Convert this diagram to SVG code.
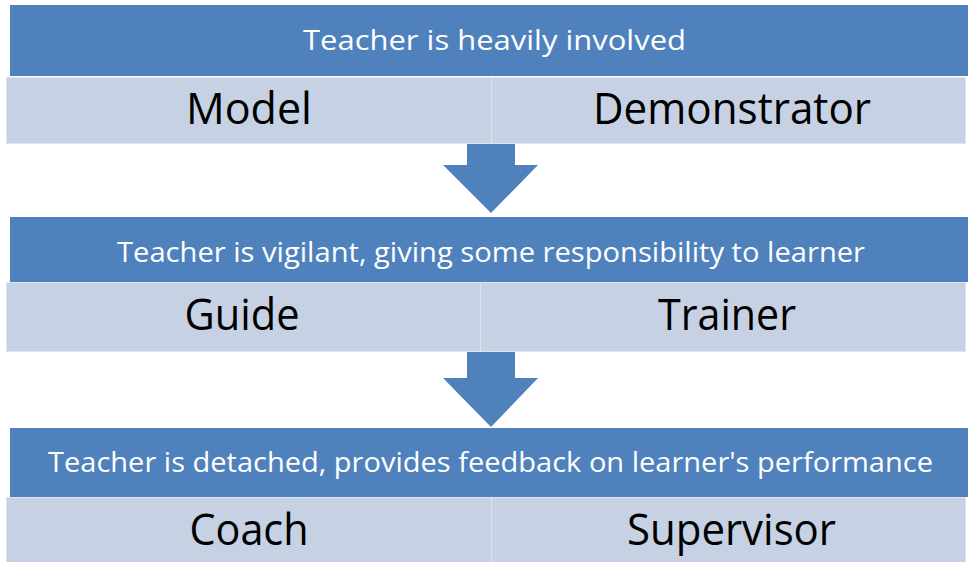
<svg xmlns="http://www.w3.org/2000/svg" width="968" height="562" viewBox="0 0 968 562">
<style>
.hdr{fill:#4f81bd}
.cell{fill:#c6d1e3;stroke:#dde4ef;stroke-width:1}
.ht{font-family:"Open Sans","Liberation Sans",sans-serif;font-size:28px;fill:#ffffff;text-anchor:middle}
.ct{font-family:"Open Sans","Liberation Sans",sans-serif;font-size:43px;fill:#000000;text-anchor:middle}
.arrow{fill:#4f81bd}
</style>
<rect width="968" height="562" fill="#ffffff"/>
<g id="band1">
  <g id="header1"><rect class="hdr" x="10" y="5" width="958" height="71"/><text class="ht" x="494.5" y="50" textLength="383" lengthAdjust="spacingAndGlyphs">Teacher is heavily involved</text></g>
  <g id="model"><rect class="cell" x="6.5" y="77.5" width="485" height="66"/><text class="ct" x="249" y="124" textLength="126" lengthAdjust="spacingAndGlyphs">Model</text></g>
  <g id="demonstrator"><rect class="cell" x="491.5" y="77.5" width="474" height="66"/><text class="ct" x="732" y="124" textLength="278" lengthAdjust="spacingAndGlyphs">Demonstrator</text></g>
</g>
<g id="band2">
  <g id="header2"><rect class="hdr" x="10" y="217" width="958" height="65"/><text class="ht" x="491" y="262" textLength="748" lengthAdjust="spacingAndGlyphs">Teacher is vigilant, giving some responsibility to learner</text></g>
  <g id="guide"><rect class="cell" x="6.5" y="282.5" width="474" height="69"/><text class="ct" x="242" y="330" textLength="115" lengthAdjust="spacingAndGlyphs">Guide</text></g>
  <g id="trainer"><rect class="cell" x="480.5" y="282.5" width="485" height="69"/><text class="ct" x="727" y="330" textLength="138" lengthAdjust="spacingAndGlyphs">Trainer</text></g>
</g>
<g id="band3">
  <g id="header3"><rect class="hdr" x="10" y="428" width="958" height="69"/><text class="ht" x="490.5" y="472" textLength="885" lengthAdjust="spacingAndGlyphs">Teacher is detached, provides feedback on learner's performance</text></g>
  <g id="coach"><rect class="cell" x="6.5" y="497.5" width="485" height="66"/><text class="ct" x="249" y="545" textLength="119" lengthAdjust="spacingAndGlyphs">Coach</text></g>
  <g id="supervisor"><rect class="cell" x="491.5" y="497.5" width="474" height="66"/><text class="ct" x="731.5" y="545" textLength="209" lengthAdjust="spacingAndGlyphs">Supervisor</text></g>
</g>
<g id="connectors">
  <polygon class="arrow" points="467,144 515,144 515,165 538,165 491,213 443,165 467,165"/>
  <polygon class="arrow" points="467,352 515,352 515,378 538,378 491,427 443,378 467,378"/>
</g>
</svg>
